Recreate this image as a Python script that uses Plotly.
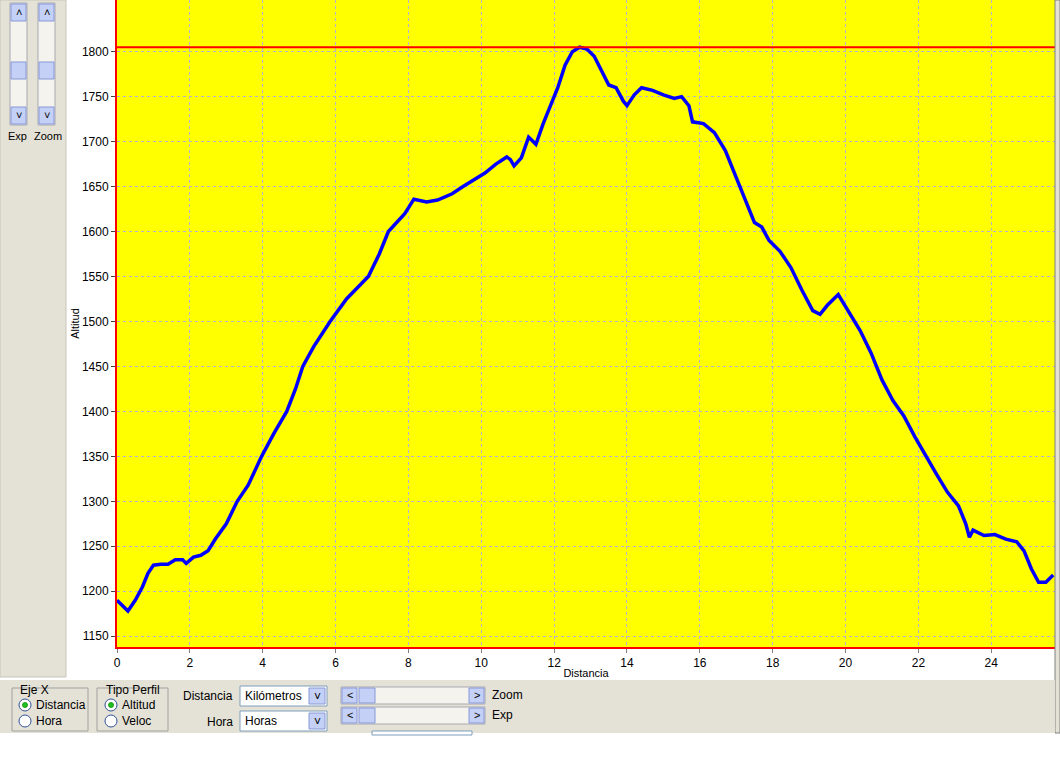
import plotly.graph_objects as go

# Distance (km) and altitude (m) read from the profile
distancia = [0.0, 0.1, 0.3, 0.5, 0.7, 0.85, 1.0, 1.2, 1.4, 1.6, 1.8, 1.9, 2.1, 2.3, 2.5, 2.7,
             3.0, 3.3, 3.6, 3.97, 4.3, 4.66, 4.9, 5.1, 5.4, 5.85, 6.3, 6.9, 7.2, 7.45,
             7.9, 8.15, 8.5, 8.8, 9.0, 9.2, 9.5, 9.8, 10.1, 10.4, 10.7, 10.8, 10.9,
             11.1, 11.3, 11.5, 11.7, 11.9, 12.1, 12.3, 12.5, 12.7, 12.9, 13.1, 13.3,
             13.5, 13.7, 13.9, 14.0, 14.2, 14.4, 14.7, 15.0, 15.3, 15.5, 15.7, 15.8,
             16.1, 16.4, 16.7, 17.0, 17.3, 17.5, 17.7, 17.9, 18.2, 18.5, 18.8, 19.1,
             19.3, 19.5, 19.8, 20.1, 20.4, 20.7, 21.0, 21.3, 21.6, 21.9, 22.2, 22.5,
             22.8, 23.1, 23.3, 23.4, 23.5, 23.8, 24.1, 24.4, 24.7, 24.9, 25.1, 25.3,
             25.5, 25.7]
altitud = [1190, 1186, 1178, 1190, 1205, 1220, 1229, 1230, 1230, 1235, 1235, 1231, 1238,
           1240, 1245, 1258, 1275, 1300, 1318, 1350, 1375, 1400, 1425, 1450, 1472, 1500,
           1525, 1550, 1575, 1600, 1620, 1636, 1633, 1635, 1638, 1642, 1650, 1657, 1665,
           1675, 1683, 1680, 1673, 1682, 1705, 1697, 1720, 1740, 1760, 1785, 1800, 1805,
           1803, 1795, 1778, 1763, 1760, 1745, 1740, 1752, 1760, 1757, 1752, 1748, 1750,
           1740, 1722, 1720, 1710, 1690, 1660, 1630, 1610, 1605, 1590, 1578, 1560, 1535,
           1512, 1508, 1518, 1530, 1510, 1490, 1465, 1435, 1412, 1395, 1372, 1350, 1330,
           1310, 1295, 1275, 1260, 1268, 1262, 1263, 1258, 1255, 1245, 1225, 1210, 1210,
           1218]

x_ticks = list(range(0, 26, 2))
y_ticks = list(range(1150, 1801, 50))

W, H = 1060, 768
L, R, T, B = 117, 5, 0, 121
PW, PH = W - L - R, H - T - B


def X(px):
    return (px - L) / PW


def Y(py):
    return (T + PH - py) / PH


GRAY = "#e4e2d6"
FONT = "Liberation Sans, Arial, sans-serif"

fig = go.Figure()
fig.add_trace(go.Scatter(x=distancia, y=altitud, mode="lines",
                         line=dict(color="#0000ff", width=3.5), hoverinfo="skip"))

shapes = []
ann = []


def rect(x0, y0, x1, y1, fill, line=None, lw=1):
    shapes.append(dict(type="rect", xref="paper", yref="paper",
                       x0=X(x0), x1=X(x1), y0=Y(y1), y1=Y(y0),
                       fillcolor=fill, line=dict(color=line or fill, width=lw if line else 0)))


def circ(cx, cy, r, fill, line):
    shapes.append(dict(type="circle", xref="paper", yref="paper",
                       x0=X(cx - r), x1=X(cx + r), y0=Y(cy + r), y1=Y(cy - r),
                       fillcolor=fill, line=dict(color=line, width=1)))


def text(px, py, s, size=12, xanchor="left"):
    ann.append(dict(xref="paper", yref="paper", x=X(px), y=Y(py), text=s,
                    showarrow=False, xanchor=xanchor, yanchor="middle",
                    font=dict(family=FONT, size=size, color="black")))


# max altitude red line
shapes.append(dict(type="line", xref="paper", yref="y", x0=0, x1=1,
                   y0=max(altitud), y1=max(altitud), line=dict(color="#ff0000", width=2)))

# left panel
rect(0, 0, 66, 677, GRAY, "#c8c6b8")
for sx in (10, 38):
    rect(sx, 3, sx + 17, 125, "#f4f3ee", "#a8a8b0")
    for by in (4, 62, 107):
        rect(sx + 1, by, sx + 16, by + 17, "#c4d0f6", "#8898d8")
text(17, 136, "Exp", 11, "center")
text(48, 136, "Zoom", 11, "center")
for sx in (18.5, 46.5):
    text(sx, 12, "˄", 11, "center")
    text(sx, 115, "˅", 11, "center")

# right strip
rect(1055, 0, 1060, 733, GRAY, "#808080")

# bottom panel
rect(0, 680, 1055, 733, GRAY)
rect(12, 688, 88, 731, GRAY, "#a0a0a0")
rect(97, 688, 168, 731, GRAY, "#a0a0a0")
text(18, 690, "Eje X", 12)
text(104, 690, "Tipo Perfil", 12)
for cx, cy, on in ((25, 705, True), (25, 721, False), (111, 705, True), (111, 721, False)):
    circ(cx, cy, 6, "white", "#3050a0")
    if on:
        circ(cx, cy, 2.5, "#20c020", "#20a020")
text(34, 705, "Distancia", 12)
text(34, 721, "Hora", 12)
text(120, 705, "Altitud", 12)
text(120, 721, "Veloc", 12)
text(235, 696, "Distancia", 12, "right")
text(235, 722, "Hora", 12, "right")
for dy, s in ((686, "Kilómetros"), (711, "Horas")):
    rect(240, dy, 327, dy + 20, "white", "#7f9db9")
    rect(309, dy + 2, 325, dy + 18, "#c4d0f6", "#8898d8")
    text(243, dy + 10, s, 12)
    text(317, dy + 11, "˅", 12, "center")
for sy, s in ((687, "Zoom"), (707, "Exp")):
    rect(341, sy, 485, sy + 17, "#f4f3ee", "#a8a8b0")
    rect(342, sy + 1, 357, sy + 16, "#c4d0f6", "#8898d8")
    rect(359, sy + 1, 375, sy + 16, "#c4d0f6", "#8898d8")
    rect(469, sy + 1, 484, sy + 16, "#c4d0f6", "#8898d8")
    text(349.5, sy + 8, "<", 11, "center")
    text(476.5, sy + 8, ">", 11, "center")
    text(490, sy + 8, s, 12)
rect(372, 731, 472, 735, "white", "#7f9db9")

fig.update_layout(
    width=W, height=H,
    margin=dict(l=L, r=R, t=T, b=B),
    paper_bgcolor="white", plot_bgcolor="#ffff00",
    showlegend=False,
    shapes=shapes, annotations=ann,
    font=dict(family=FONT, size=12, color="black"),
    xaxis=dict(range=[0, 25.75], tickvals=x_ticks, ticks="outside", ticklen=4,
               tickcolor="#808080", showline=True, linecolor="#ff0000", linewidth=2,
               showgrid=True, gridcolor="#b4b4cc", griddash="3px,3px", gridwidth=1,
               zeroline=False, tickfont=dict(family=FONT, size=12),
               title=dict(text="Distancia", font=dict(family=FONT, size=11), standoff=0)),
    yaxis=dict(range=[1138, 1857.5], tickvals=y_ticks, ticks="outside", ticklen=4,
               tickcolor="#404040", showline=True, linecolor="#ff0000", linewidth=2,
               showgrid=True, gridcolor="#b4b4cc", griddash="3px,3px", gridwidth=1,
               zeroline=False, tickfont=dict(family=FONT, size=12),
               title=dict(text="Altitud", font=dict(family=FONT, size=11), standoff=0)),
)

fig.write_html("out.html", config={"displayModeBar": False},
               post_script="document.body.style.margin='0';")
